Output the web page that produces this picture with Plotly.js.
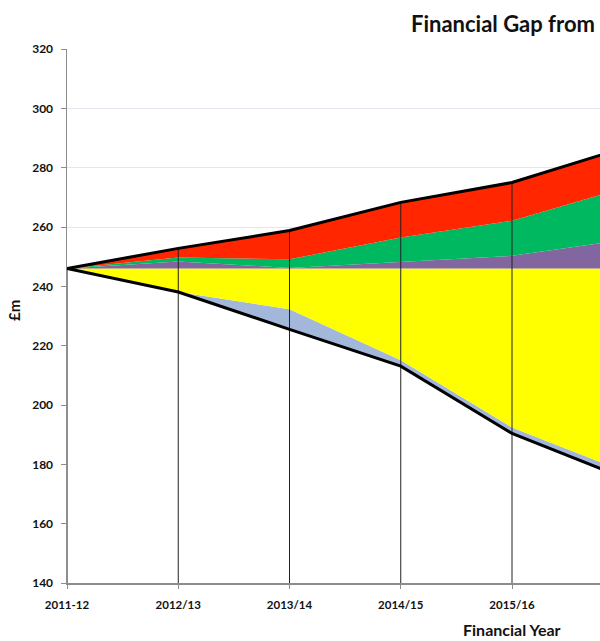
<!DOCTYPE html>
<html>
<head>
<meta charset="utf-8">
<script src="https://cdn.plot.ly/plotly-3.0.1.min.js"></script>
<style>html,body{margin:0;padding:0;overflow:hidden;background:#fff}#chart{width:600px;height:641px}</style>
</head>
<body>
<div id="chart"></div>
<script>
// ---- data (£m) ----
var years = ['2011-12', '2012/13', '2013/14', '2014/15', '2015/16', '2016/17'];
var baseline = 246;
var purple = [0, 2.4, 0.2, 2.3, 4.3, 9.6];
var green  = [0, 1.3, 2.9, 8.2, 11.8, 17.5];
var red    = [0, 3.1, 9.7, 11.8, 12.9, 13.5];
var yellow = [0, 7.9, 13.7, 30.9, 53.6, 68.3];
var blue   = [0, 0, 6.8, 2.0, 2.0, 2.2];
var yTicks = [140, 160, 180, 200, 220, 240, 260, 280, 300, 320];

// ---- derived stack levels ----
var baseLvl = years.map(function () { return baseline; });
var lvlPurple = years.map(function (_, i) { return baseline + purple[i]; });
var lvlGreen = years.map(function (_, i) { return lvlPurple[i] + green[i]; });
var topLine = years.map(function (_, i) { return lvlGreen[i] + red[i]; });
var lvlYellow = years.map(function (_, i) { return baseline - yellow[i]; });
var bottomLine = years.map(function (_, i) { return lvlYellow[i] - blue[i]; });

var dropX = [], dropY = [];
years.forEach(function (y, i) { dropX.push(y, y, null); dropY.push(yTicks[0], topLine[i], null); });

function area(y, color, fill) {
  return {x: years, y: y, type: 'scatter', mode: 'lines', line: {width: 0, color: color},
          fill: fill, fillcolor: color, hoverinfo: 'skip'};
}

var traces = [
  area(bottomLine, '#FFFFFF', 'tozeroy'),
  area(lvlYellow, '#A2B7DA', 'tonexty'),
  area(baseLvl, '#FFFF00', 'tonexty'),
  area(lvlPurple, '#8266A0', 'tonexty'),
  area(lvlGreen, '#00B860', 'tonexty'),
  area(topLine, '#FF2600', 'tonexty'),
  {x: dropX, y: dropY, type: 'scatter', mode: 'lines', line: {color: '#222222', width: 1}, hoverinfo: 'skip'},
  {x: years, y: topLine, type: 'scatter', mode: 'lines', line: {color: '#000000', width: 3}},
  {x: years, y: bottomLine, type: 'scatter', mode: 'lines', line: {color: '#000000', width: 3}}
];

var F = 'Lato, "Open Sans", sans-serif';
var layout = {
  width: 600, height: 641,
  margin: {l: 67, r: 0, t: 49, b: 58, pad: 0},
  paper_bgcolor: '#FFFFFF', plot_bgcolor: '#FFFFFF',
  showlegend: false,
  font: {family: F, color: '#111111'},
  title: {text: '<b>Financial Gap from</b>', font: {family: F, size: 22, color: '#111111'},
          xref: 'container', x: 411 / 600, xanchor: 'left', yref: 'container', y: 1 - 24 / 641, yanchor: 'middle'},
  xaxis: {type: 'category', range: [0, 4.791], showgrid: false, zeroline: false,
          showline: true, linecolor: '#8C8C8C', linewidth: 1.5,
          ticks: 'outside', ticklen: 4, tickcolor: '#8C8C8C', ticklabelstandoff: 7,
          tickfont: {family: F, size: 11.5, color: '#111111', weight: 'bold'}},
  yaxis: {range: [140, 320], tickvals: yTicks, showgrid: true, gridcolor: '#E3E8F0', gridwidth: 1,
          zeroline: false, showline: true, linecolor: '#8C8C8C', linewidth: 1.5,
          ticks: 'outside', ticklen: 5, tickcolor: '#8C8C8C', ticklabelstandoff: 5,
          tickfont: {family: F, size: 12, color: '#111111', weight: 'bold'}},
  annotations: [
    {text: '<b>Financial Year</b>', xref: 'paper', yref: 'paper', x: (512 - 67) / 533, y: (583 - 629) / 534,
     xanchor: 'center', yanchor: 'middle', showarrow: false, font: {family: F, size: 16, color: '#111111'}},
    {text: '<b>£m</b>', xref: 'paper', yref: 'paper', x: (14 - 67) / 533, y: (583 - 311) / 534, textangle: -90,
     xanchor: 'center', yanchor: 'middle', showarrow: false, font: {family: F, size: 15, color: '#111111'}}
  ]
};

Plotly.newPlot('chart', traces, layout, {staticPlot: true, displayModeBar: false});
</script>
</body>
</html>
